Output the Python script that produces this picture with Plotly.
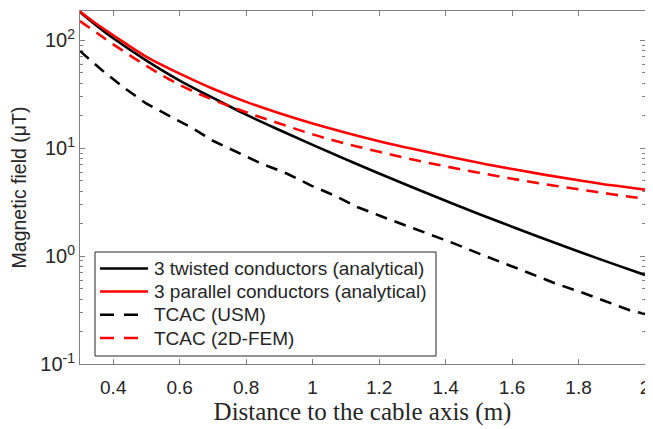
import plotly.graph_objects as go

# Distance to the cable axis (m)
x_analytical = [0.3, 0.35, 0.4, 0.5, 0.6, 0.7, 0.8, 0.9, 1.0, 1.1, 1.2, 1.3, 1.4, 1.5, 1.6, 1.7, 1.8, 1.9, 2.0]

# 3 twisted conductors (analytical), µT
twisted = [182, 136, 104, 64.6, 42.2, 29.2, 20.4, 14.7, 10.7, 7.87, 5.82, 4.34, 3.25, 2.45, 1.87, 1.43, 1.10, 0.855, 0.668]

# 3 parallel conductors (analytical), µT
parallel = [184, 141, 111, 70, 49, 35.5, 26.8, 21.0, 16.9, 13.9, 11.6, 9.84, 8.43, 7.31, 6.40, 5.65, 5.04, 4.52, 4.12]

# TCAC (2D-FEM), µT
fem = [150, 117, 91.4, 57.7, 38.5, 28.1, 21.5, 16.9, 13.4, 11.0, 9.23, 7.85, 6.78, 5.92, 5.21, 4.63, 4.15, 3.74, 3.39]

# TCAC (USM), µT
x_usm = [0.3, 0.314, 0.374, 0.439, 0.499, 0.565, 0.635, 0.700, 0.775, 0.845, 0.922, 0.997,
         1.064, 1.134, 1.204, 1.280, 1.350, 1.425, 1.505, 1.580, 1.655, 1.731, 1.806, 1.879, 1.954, 2.0]
usm = [80, 72.6, 50.2, 35.1, 25.9, 20.2, 15.5, 11.7, 9.1, 7.2, 5.82, 4.47,
       3.66, 2.85, 2.35, 1.93, 1.61, 1.31, 1.04, 0.85, 0.69, 0.556, 0.465, 0.384, 0.315, 0.29]

series_names = ["3 twisted conductors (analytical)", "3 parallel conductors (analytical)",
                "TCAC (USM)", "TCAC (2D-FEM)"]

x_ticks = [0.4, 0.6, 0.8, 1.0, 1.2, 1.4, 1.6, 1.8, 2.0]
x_tick_labels = ["0.4", "0.6", "0.8", "1", "1.2", "1.4", "1.6", "1.8", "2"]
y_ticks = [0.1, 1, 10, 100]
y_tick_labels = ["10<sup>-1</sup>", "10<sup>0</sup>", "10<sup>1</sup>", "10<sup>2</sup>"]
y_minor_ticks = [m * d for d in (0.1, 1, 10, 100) for m in range(2, 10) if m * d < 186]

styles = [
    dict(color="black", width=2.6),
    dict(color="#ff0000", width=2.6),
    dict(color="black", width=2.6, dash="12px,8px"),
    dict(color="#ff0000", width=2.6, dash="12px,8px"),
]

fig = go.Figure()
fig.add_trace(go.Scatter(x=x_analytical, y=twisted, mode="lines", line_shape="spline",
                         name=series_names[0], line=styles[0], showlegend=False))
fig.add_trace(go.Scatter(x=x_analytical, y=parallel, mode="lines", line_shape="spline",
                         name=series_names[1], line=styles[1], showlegend=False))
fig.add_trace(go.Scatter(x=x_usm, y=usm, mode="lines",
                         name=series_names[2], line=styles[2], showlegend=False))
fig.add_trace(go.Scatter(x=x_analytical, y=fem, mode="lines", line_shape="spline",
                         name=series_names[3], line=styles[3], showlegend=False))

axis_col = "#808080"
txt_col = "#262626"

# Page is offset by the default 8px body margin; compensate in figure size/margins.
OFF = 8
L, R, T, B = 80, 645, 11, 364          # desired plot-area pixel bounds on the page
W, H = R - L, B - T
px = lambda v: (v - L) / W
py = lambda v: (B - v) / H

# Legend box (MATLAB style)
fig.add_shape(type="rect", xref="paper", yref="paper",
              x0=px(95), x1=px(436), y0=py(356), y1=py(252),
              line=dict(color=txt_col, width=1), fillcolor="white", layer="above")
row_y = [268.5, 291.5, 314.8, 338]
for name, st, yy in zip(series_names, styles, row_y):
    sample = dict(color=st["color"], width=st["width"])
    if "dash" in st:
        sample["dash"] = "14px,10px"
    fig.add_shape(type="line", xref="paper", yref="paper",
                  x0=px(100), x1=px(148), y0=py(yy), y1=py(yy),
                  line=sample, layer="above")
    fig.add_annotation(xref="paper", yref="paper", x=px(152), y=py(yy),
                       xanchor="left", yanchor="middle", showarrow=False,
                       text=name, font=dict(size=19, color=txt_col))

fig_w, fig_h = 653 - OFF, 429 - OFF
fig.update_layout(
    width=fig_w, height=fig_h,
    margin=dict(l=L - OFF, r=fig_w - (R - OFF), t=T - OFF, b=fig_h - (B - OFF)),
    paper_bgcolor="white", plot_bgcolor="white",
    font=dict(family="Liberation Sans, Arial, sans-serif", color=txt_col, size=19),
    showlegend=False,
)
fig.update_xaxes(
    range=[0.3, 2.0], tickvals=x_ticks, ticktext=x_tick_labels,
    ticks="inside", ticklen=5, tickcolor=axis_col,
    showline=True, linecolor=axis_col, linewidth=1, mirror="ticks",
    showgrid=False, zeroline=False, ticklabeloverflow="allow", ticklabelstandoff=6,
    tickfont=dict(size=19, color=txt_col),
    title=dict(text="Distance to the cable axis (m)",
               font=dict(family="Liberation Serif, DejaVu Serif, serif", size=25, color=txt_col),
               standoff=3),
)
fig.update_yaxes(
    type="log", range=[-1, 2.27], tickvals=y_ticks, ticktext=y_tick_labels,
    ticks="inside", ticklen=5, tickcolor=axis_col,
    minor=dict(tickvals=y_minor_ticks, ticks="inside", ticklen=3, tickcolor=axis_col, showgrid=False),
    showline=True, linecolor=axis_col, linewidth=1, mirror="ticks",
    showgrid=False, zeroline=False,
    tickfont=dict(size=20, color=txt_col),
    title=dict(text="Magnetic field (μT)", font=dict(size=19.5, color=txt_col), standoff=14),
)

fig.write_html("out.html")
